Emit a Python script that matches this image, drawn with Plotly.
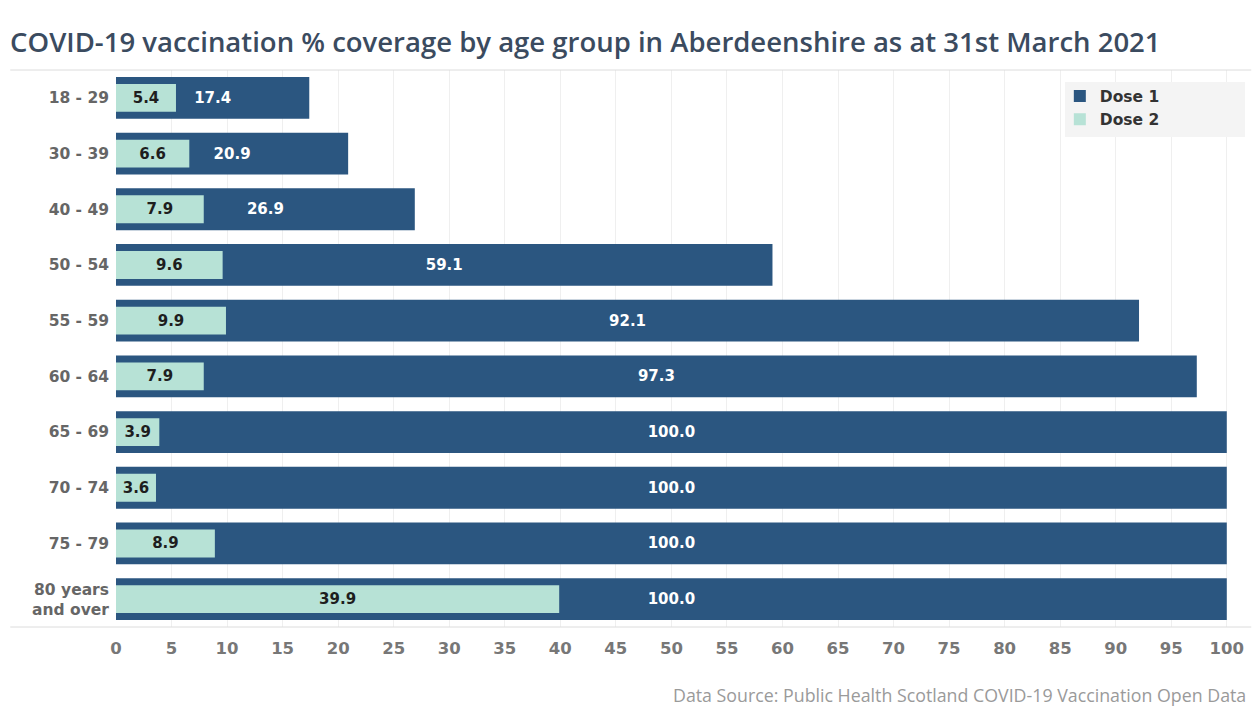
import plotly.graph_objects as go

age_groups = ["18 - 29", "30 - 39", "40 - 49", "50 - 54", "55 - 59", "60 - 64",
              "65 - 69", "70 - 74", "75 - 79", "80 years<br>and over"]
dose1 = [17.4, 20.9, 26.9, 59.1, 92.1, 97.3, 100.0, 100.0, 100.0, 100.0]
dose2 = [5.4, 6.6, 7.9, 9.6, 9.9, 7.9, 3.9, 3.6, 8.9, 39.9]
x_ticks = list(range(0, 101, 5))

title_text = "COVID-19 vaccination % coverage by age group in Aberdeenshire as at 31st March 2021"
source_text = "Data Source: Public Health Scotland COVID-19 Vaccination Open Data"

TFONT = "Open Sans"
LFONT = "DejaVu Sans"
C1 = "#2b5680"
C2 = "#b7e2d6"

fig = go.Figure()
fig.add_trace(go.Bar(
    y=age_groups, x=dose1, name="Dose 1", orientation="h", width=0.75,
    marker=dict(color=C1, line=dict(width=0)),
    text=[f"{v:.1f}" for v in dose1], textposition="inside",
    insidetextanchor="middle", constraintext="none", textangle=0,
    textfont=dict(color="white", size=15, family=LFONT, weight="bold"),
    hoverinfo="skip",
))
fig.add_trace(go.Bar(
    y=age_groups, x=dose2, name="Dose 2", orientation="h", width=0.5,
    marker=dict(color=C2, line=dict(width=0)),
    text=[f"{v:.1f}" for v in dose2], textposition="inside",
    insidetextanchor="middle", constraintext="none", textangle=0,
    textfont=dict(color="#1e1e1e", size=15, family=LFONT, weight="bold"),
    hoverinfo="skip",
))

fig.update_layout(
    width=1258, height=708,
    barmode="overlay",
    paper_bgcolor="white", plot_bgcolor="white",
    margin=dict(l=116, r=29, t=70, b=81),
    font=dict(family=LFONT, color="#555"),
    title=dict(text=title_text, x=0.008, xanchor="left", y=0.94, yanchor="middle",
               font=dict(size=27.5, color="#3b4b5f", family=TFONT, weight=600)),
    xaxis=dict(range=[0, 100.2], tickvals=x_ticks, ticktext=[str(t) for t in x_ticks],
               showgrid=True, gridcolor="#efefef", gridwidth=1, zeroline=False,
               showline=False, ticks="", ticklabelstandoff=9,
               tickfont=dict(size=16.5, color="#777", family=LFONT, weight="bold")),
    yaxis=dict(autorange="reversed", showgrid=False, zeroline=False, showline=False,
               ticks="", ticklabelstandoff=6,
               tickfont=dict(size=15.5, color="#666", family=LFONT, weight="bold")),
    legend=dict(x=0.848, y=0.983, xanchor="left", yanchor="top",
                bgcolor="rgba(0,0,0,0)", borderwidth=0,
                font=dict(size=15.5, color="#333", family=LFONT, weight="bold"),
                itemwidth=30, traceorder="normal"),
    showlegend=True,
    shapes=[
        dict(type="line", xref="paper", yref="paper", x0=-0.095, x1=1.02, y0=1, y1=1,
             line=dict(color="#dcdcdc", width=1)),
        dict(type="line", xref="paper", yref="paper", x0=-0.095, x1=1.02, y0=0, y1=0,
             line=dict(color="#dcdcdc", width=1)),
        dict(type="rect", xref="paper", yref="paper", x0=0.8527, x1=1.0144,
             y0=0.8797, y1=0.9785, fillcolor="#f4f4f4", line=dict(width=0),
             layer="above"),
    ],
    annotations=[
        dict(text=source_text, xref="paper", yref="paper", x=1.017, y=-0.122,
             xanchor="right", yanchor="middle", showarrow=False,
             font=dict(size=17.8, color="#9a9a9a", family=TFONT)),
    ],
)

fig.write_html("out.html", config={"displayModeBar": False},
               post_script="document.body.style.margin='0';document.body.style.overflow='hidden';")
